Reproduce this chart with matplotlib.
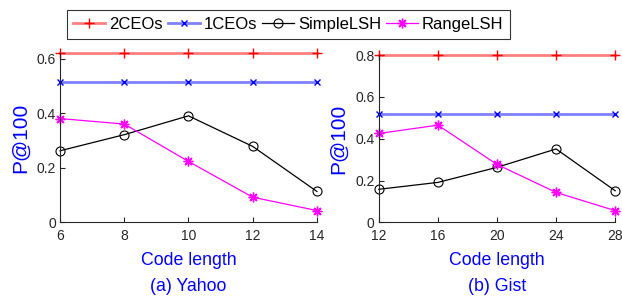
import matplotlib
matplotlib.use("Agg")
import matplotlib.pyplot as plt

plt.rcParams['font.family'] = ['Liberation Sans', 'DejaVu Sans']

# Yahoo
yahoo_x = [6, 8, 10, 12, 14]
yahoo_2ceos = [0.62, 0.62, 0.62, 0.62, 0.62]
yahoo_1ceos = [0.513, 0.513, 0.513, 0.513, 0.513]
yahoo_simplelsh = [0.262, 0.321, 0.390, 0.278, 0.113]
yahoo_rangelsh = [0.380, 0.360, 0.223, 0.092, 0.043]

# Gist
gist_x = [12, 16, 20, 24, 28]
gist_2ceos = [0.8, 0.8, 0.8, 0.8, 0.8]
gist_1ceos = [0.518, 0.518, 0.518, 0.518, 0.518]
gist_simplelsh = [0.158, 0.191, 0.263, 0.351, 0.151]
gist_rangelsh = [0.425, 0.465, 0.277, 0.143, 0.056]

series_names = ['2CEOs', '1CEOs', 'SimpleLSH', 'RangeLSH']
captions = ['(a) Yahoo', '(b) Gist']
yahoo_yticks = [0, 0.2, 0.4, 0.6]
gist_yticks = [0, 0.2, 0.4, 0.6, 0.8]

fig = plt.figure(figsize=(6.22, 2.98), dpi=100)
ax1 = fig.add_axes([0.0965, 0.254, 0.413, 0.568])
ax2 = fig.add_axes([0.609, 0.254, 0.380, 0.561])

tick_col = '#262626'
asterisk = (8, 2, 0)

def draw(ax, x, s2, s1, ss, sr, yticks, ytop, caption):
    h1, = ax.plot(x, s2, color=(1, 0, 0, 0.5), lw=2.0, marker='+', ms=7.5,
                  mec='red', mew=1.0, label=series_names[0], clip_on=False)
    h2, = ax.plot(x, s1, color=(0, 0, 1, 0.5), lw=2.0, marker='x', ms=5,
                  mec='blue', mew=1.0, label=series_names[1], clip_on=False)
    h3, = ax.plot(x, ss, color='black', lw=0.9, marker='o', ms=6.5, mfc='none',
                  mec='black', mew=0.8, label=series_names[2], clip_on=False)
    h4, = ax.plot(x, sr, color='magenta', lw=0.9, marker=asterisk, ms=7,
                  mec='magenta', mfc='magenta', mew=1.0, label=series_names[3], clip_on=False)
    ax.set_xlim(x[0], x[-1])
    ax.set_ylim(0, ytop)
    ax.set_xticks(x)
    ax.set_yticks(yticks)
    ax.set_yticklabels(['0' if v == 0 else f'{v:.1f}' for v in yticks])
    for sp in ['top', 'right']:
        ax.spines[sp].set_visible(False)
    for sp in ['left', 'bottom']:
        ax.spines[sp].set_color(tick_col)
        ax.spines[sp].set_linewidth(0.8)
    ax.tick_params(direction='in', length=3.5, width=0.8, colors=tick_col,
                   labelsize=10)
    ax.tick_params(axis='x', pad=5)
    ax.tick_params(axis='y', pad=3)
    ax.set_xlabel('Code length', color='blue', fontsize=12.8, labelpad=6)
    ax.set_ylabel('P@100', color='blue', fontsize=15, labelpad=5)
    ax.annotate(caption, xy=(0.5, 0), xycoords='axes fraction',
                xytext=(0, -64), textcoords='offset pixels',
                ha='center', va='center', color='blue', fontsize=12.8)
    return [h1, h2, h3, h4]

handles = draw(ax1, yahoo_x, yahoo_2ceos, yahoo_1ceos, yahoo_simplelsh, yahoo_rangelsh,
               yahoo_yticks, 0.62, captions[0])
draw(ax2, gist_x, gist_2ceos, gist_1ceos, gist_simplelsh, gist_rangelsh,
     gist_yticks, 0.8, captions[1])

leg = fig.legend(handles, series_names, loc='center', bbox_to_anchor=(288.5 / 622, 1 - 24.5 / 298),
                 ncol=4, fontsize=12, frameon=True, fancybox=False, edgecolor='black',
                 handlelength=1.9, handletextpad=0.25, columnspacing=0.3,
                 borderpad=0.4, borderaxespad=0)
leg.get_frame().set_linewidth(0.8)

fig.savefig('out.png', dpi=100)
